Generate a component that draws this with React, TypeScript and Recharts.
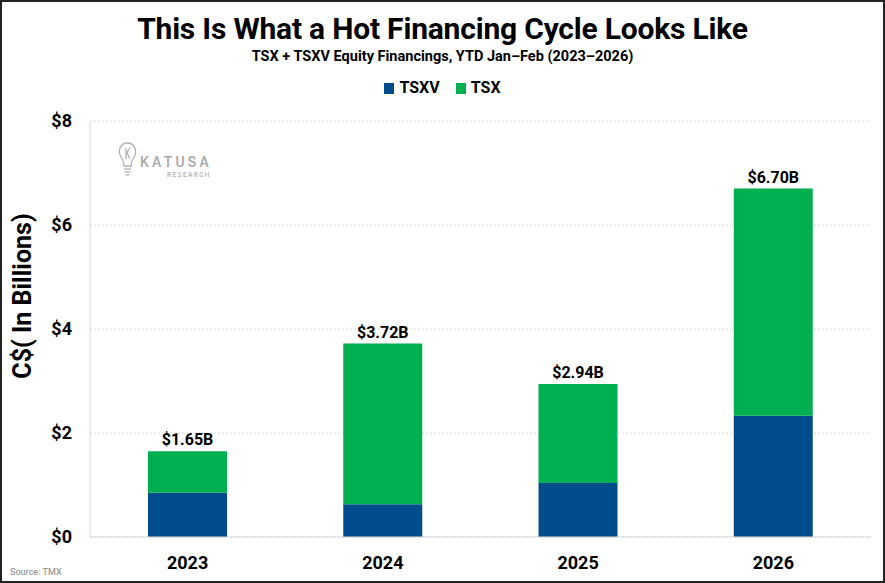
import React from 'react';
import { BarChart, Bar, XAxis, YAxis, CartesianGrid, LabelList } from 'recharts';

const years = ['2023', '2024', '2025', '2026'];
const tsxvValues = [0.85, 0.63, 1.04, 2.33];
const tsxValues = [0.8, 3.09, 1.9, 4.37];
const totalValues = [1.65, 3.72, 2.94, 6.7];
const yTicks = [0, 2, 4, 6, 8];
const seriesNames = ['TSXV', 'TSX'];

const data = years.map((year, i) => ({
  year,
  TSXV: tsxvValues[i],
  TSX: tsxValues[i],
  total: totalValues[i],
}));

const FONT = 'Roboto, "Noto Sans", sans-serif';
const BLUE = '#004C8C';
const GREEN = '#00B050';
const seriesColors = [BLUE, GREEN];

const Logo = () => (
  <svg width={120} height={45} style={{ position: 'absolute', left: 115, top: 140 }}>
    <g fill="none" stroke="#b0b0b0" strokeWidth={1.3}>
      <path d="M 6 17 C 2 10, 6 3, 12.5 3 C 19 3, 23 10, 19 17 C 17 20, 16 22, 16 26 L 9 26 C 9 22, 8 20, 6 17 Z" />
      <line x1={9} y1={29} x2={16} y2={29} />
      <line x1={9.5} y1={32} x2={15.5} y2={32} />
      <line x1={10.5} y1={35} x2={14.5} y2={35} />
      <path d="M 11 8 L 11 19 M 11 14 L 15 8 M 12 13 L 15 19" />
    </g>
    <text x={25} y={27} fill="#a8a8a8" fontFamily={FONT} fontSize={14} fontWeight={500} letterSpacing={3.2}>
      KATUSA
    </text>
    <text x={52} y={37} fill="#b0b0b0" fontFamily={FONT} fontSize={6.5} fontWeight={500} letterSpacing={1.4}>
      RESEARCH
    </text>
  </svg>
);

export default function App() {
  return (
    <div style={{ position: 'absolute', left: 0, top: 0, width: 885, height: 583, background: '#fff', fontFamily: FONT }}>
      <div
        style={{
          position: 'absolute', left: 0, top: 11, width: 885, textAlign: 'center',
          fontSize: 30, fontWeight: 700, color: '#000', letterSpacing: -0.2, lineHeight: '36px',
        }}
      >
        This Is What a Hot Financing Cycle Looks Like
      </div>
      <div
        style={{
          position: 'absolute', left: 0, top: 48, width: 885, textAlign: 'center',
          fontSize: 14.5, fontWeight: 700, color: '#000', lineHeight: '18px',
        }}
      >
        TSX + TSXV Equity Financings, YTD Jan–Feb (2023–2026)
      </div>
      <div
        style={{
          position: 'absolute', left: 0, top: 78, width: 885, display: 'flex', justifyContent: 'center',
          alignItems: 'center', gap: 16, fontSize: 16, fontWeight: 700, color: '#000', lineHeight: '20px',
        }}
      >
        {seriesNames.map((name, i) => (
          <div key={name} style={{ display: 'flex', alignItems: 'center', gap: 5 }}>
            <span style={{ display: 'inline-block', width: 10, height: 11, background: seriesColors[i] }} />
            <span>{name}</span>
          </div>
        ))}
      </div>
      <div style={{ position: 'absolute', left: 0, top: 0 }}>
        <BarChart width={885} height={583} data={data} margin={{ top: 121, right: 14, bottom: 0, left: 0 }}>
          <CartesianGrid vertical={false} stroke="#d9d9d9" strokeDasharray="2 2" />
          <XAxis
            dataKey="year"
            height={46}
            axisLine={{ stroke: '#d9d9d9' }}
            tickLine={false}
            tickSize={0}
            tickMargin={19}
            tick={{ fontSize: 18, fontWeight: 700, fill: '#000', fontFamily: FONT }}
          />
          <YAxis
            width={90}
            domain={[0, 8]}
            ticks={yTicks}
            interval={0}
            tickFormatter={(v: number) => `$${v}`}
            axisLine={{ stroke: '#d9d9d9' }}
            tickLine={false}
            tickSize={0}
            tickMargin={18}
            tick={{ fontSize: 18, fontWeight: 700, fill: '#000', fontFamily: FONT }}
          />
          <Bar dataKey="TSXV" stackId="a" fill={BLUE} barSize={79} isAnimationActive={false} />
          <Bar dataKey="TSX" stackId="a" fill={GREEN} barSize={79} isAnimationActive={false}>
            <LabelList
              dataKey="total"
              position="top"
              offset={6}
              formatter={(v: number) => `$${v.toFixed(2)}B`}
              style={{ fontSize: 16, fontWeight: 700, fill: '#000', fontFamily: FONT }}
            />
          </Bar>
        </BarChart>
      </div>
      <svg width={40} height={583} style={{ position: 'absolute', left: 0, top: 0 }}>
        <text
          x={0}
          y={0}
          transform="translate(31, 296) rotate(-90)"
          textAnchor="middle"
          fontFamily={FONT}
          fontSize={25}
          fontWeight={700}
          fill="#000"
        >
          C$( In Billions)
        </text>
      </svg>
      <Logo />
      <div style={{ position: 'absolute', left: 10, top: 567, fontSize: 9, color: '#9a9a9a', fontWeight: 500 }}>
        Source: TMX
      </div>
      <div
        style={{
          position: 'absolute', left: 0, top: 0, width: 885, height: 583, boxSizing: 'border-box',
          border: '2px solid #222', pointerEvents: 'none',
        }}
      />
    </div>
  );
}
